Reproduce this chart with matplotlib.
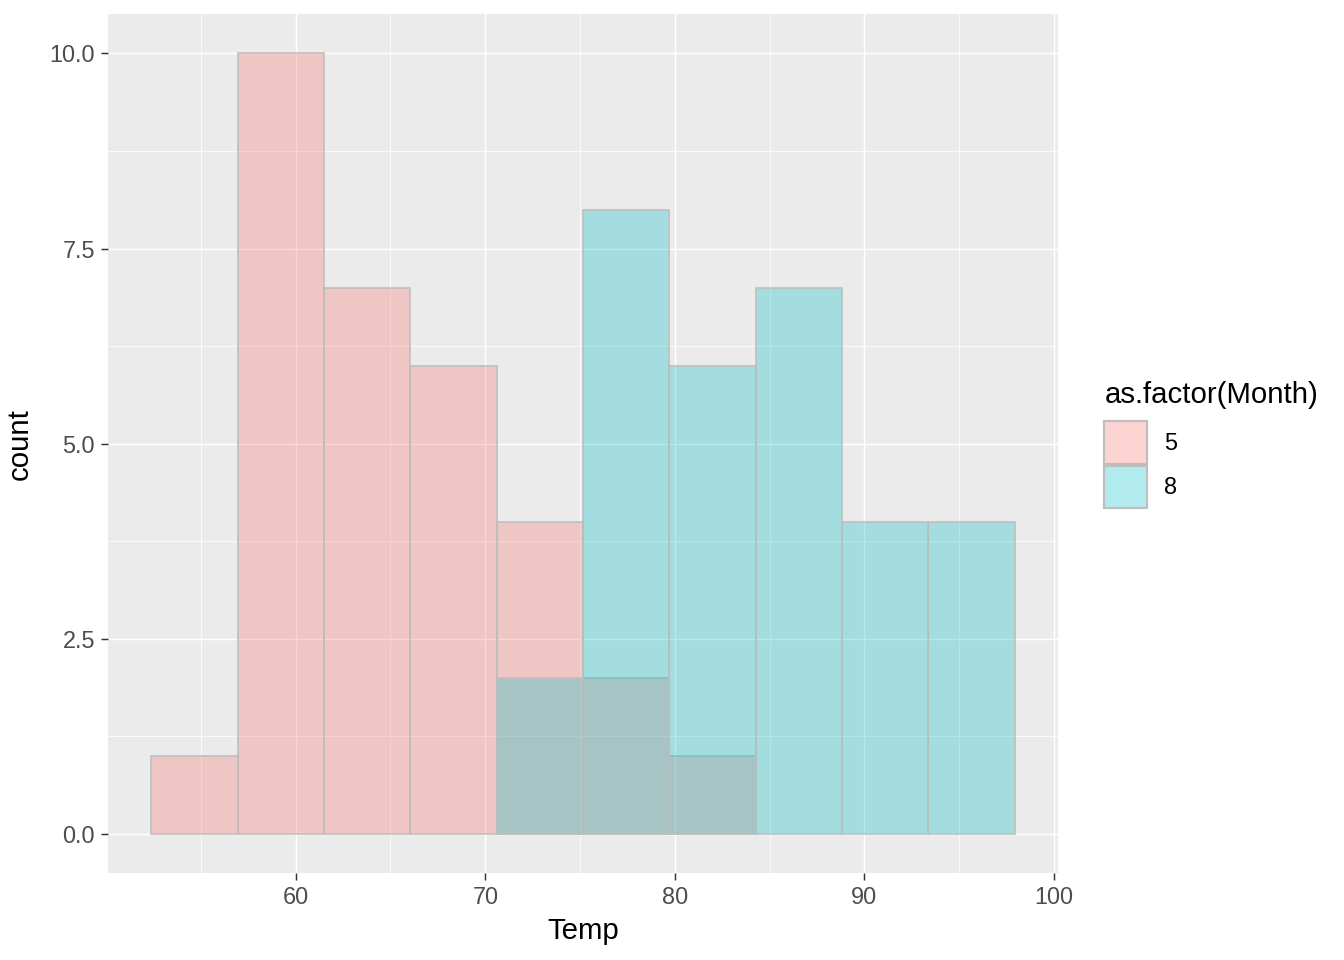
import numpy as np
import matplotlib.pyplot as plt
from matplotlib.patches import Patch

plt.rcParams['font.family'] = ['Liberation Sans', 'DejaVu Sans']

# histogram bins (Temp) and counts per month
bin_edges = [52.38, 56.94, 61.49, 66.05, 70.60, 75.16, 79.71, 84.27, 88.82, 93.38, 97.93]
month_labels = ['5', '8']
counts_may = [1, 10, 7, 6, 4, 2, 1, 0, 0, 0]
counts_aug = [0, 0, 0, 0, 2, 8, 6, 7, 4, 4]
fill_colors = ['#F8766D', '#00BFC4']

fig = plt.figure(figsize=(7, 5), dpi=192)
ax = fig.add_axes([0.0804, 0.0906, 0.787 - 0.0804, 0.985 - 0.0906])
ax.set_facecolor('#EBEBEB')

edges = np.array(bin_edges)
lefts = edges[:-1]
widths = np.diff(edges)
for cnts, col in zip([counts_may, counts_aug], fill_colors):
    cnts = np.array(cnts)
    m = cnts > 0
    ax.bar(lefts[m], cnts[m], width=widths[m], align='edge',
           color=(*plt.matplotlib.colors.to_rgb(col), 0.3),
           edgecolor='#BEBEBE', linewidth=0.6, zorder=3)

ax.set_xlim(50.1, 100.2)
ax.set_ylim(-0.5, 10.5)
ax.set_xticks([60, 70, 80, 90, 100])
ax.set_xticks([55, 65, 75, 85, 95], minor=True)
ax.set_yticks([0, 2.5, 5, 7.5, 10])
ax.set_yticklabels(['0.0', '2.5', '5.0', '7.5', '10.0'])
ax.set_yticks([1.25, 3.75, 6.25, 8.75], minor=True)
ax.grid(which='major', color='white', linewidth=0.55, zorder=0)
ax.grid(which='minor', color='white', linewidth=0.28, zorder=0)
ax.set_axisbelow(True)
for s in ax.spines.values():
    s.set_visible(False)
ax.tick_params(which='major', length=2.7, width=0.55, color='#333333',
               labelsize=8.8, labelcolor='#4D4D4D', pad=2.2)
ax.tick_params(which='minor', length=0)
ax.set_xlabel('Temp', fontsize=11, labelpad=3)
ax.set_ylabel('count', fontsize=11, labelpad=6)

handles = [Patch(facecolor=(*plt.matplotlib.colors.to_rgb(c), 0.3), edgecolor='#BEBEBE',
                 linewidth=0.8) for c in fill_colors]
leg = fig.legend(handles, month_labels, title='as.factor(Month)',
                 loc='upper left', bbox_to_anchor=(0.8217, 0.603),
                 frameon=False, fontsize=8.8, title_fontsize=11,
                 handlelength=1.83, handleheight=2.44, handletextpad=0.7,
                 labelspacing=0.05, borderpad=0, borderaxespad=0)
leg._legend_box.align = 'left'
leg._legend_box.sep = 4.6

fig.savefig('out.png', dpi=192)
